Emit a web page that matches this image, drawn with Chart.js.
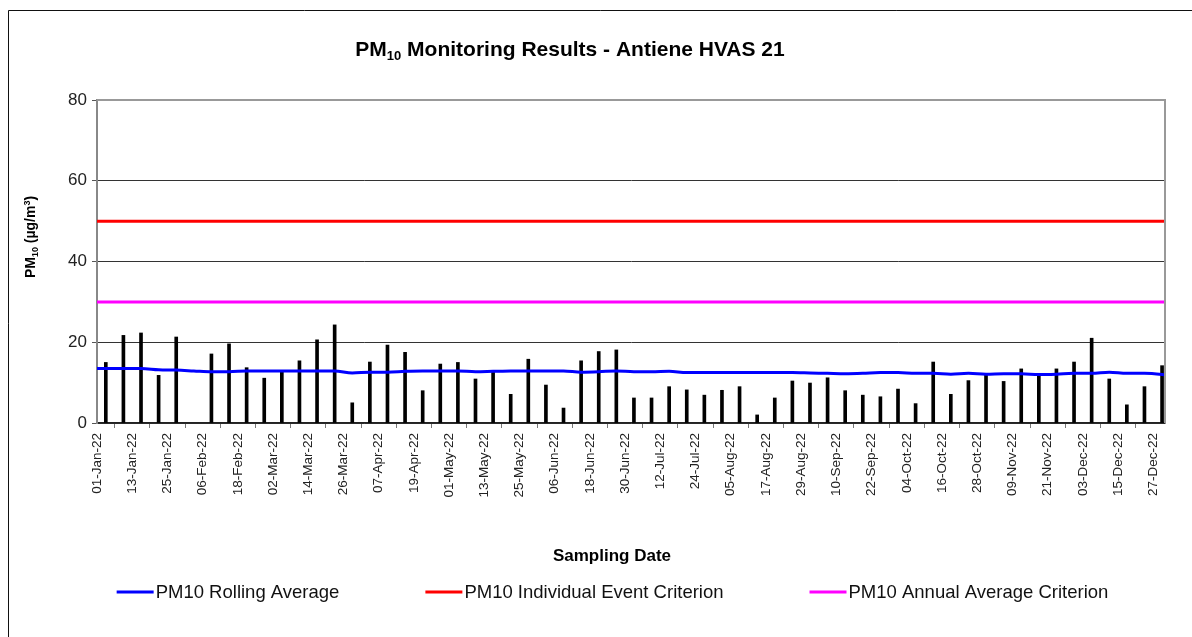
<!DOCTYPE html>
<html>
<head>
<meta charset="utf-8">
<script src="https://cdn.jsdelivr.net/npm/chart.js@4.4.1/dist/chart.umd.min.js"></script>
<style>
  html, body { margin: 0; padding: 0; background: #fff; }
  canvas { display: block; }
</style>
</head>
<body>
<canvas id="chart" width="1192" height="637"></canvas>
<script>
// sampling every 6 days, 03-Feb had no result
const sampleDates = [
    "04-Jan-22", "10-Jan-22", "16-Jan-22", "22-Jan-22", "28-Jan-22",
    "03-Feb-22", "09-Feb-22", "15-Feb-22", "21-Feb-22", "27-Feb-22",
    "05-Mar-22", "11-Mar-22", "17-Mar-22", "23-Mar-22", "29-Mar-22",
    "04-Apr-22", "10-Apr-22", "16-Apr-22", "22-Apr-22", "28-Apr-22",
    "04-May-22", "10-May-22", "16-May-22", "22-May-22", "28-May-22",
    "03-Jun-22", "09-Jun-22", "15-Jun-22", "21-Jun-22", "27-Jun-22",
    "03-Jul-22", "09-Jul-22", "15-Jul-22", "21-Jul-22", "27-Jul-22",
    "02-Aug-22", "08-Aug-22", "14-Aug-22", "20-Aug-22", "26-Aug-22",
    "01-Sep-22", "07-Sep-22", "13-Sep-22", "19-Sep-22", "25-Sep-22",
    "01-Oct-22", "07-Oct-22", "13-Oct-22", "19-Oct-22", "25-Oct-22", "31-Oct-22",
    "06-Nov-22", "12-Nov-22", "18-Nov-22", "24-Nov-22", "30-Nov-22",
    "06-Dec-22", "12-Dec-22", "18-Dec-22", "24-Dec-22", "30-Dec-22"
];

const pm10 = [
    15.0, 21.7, 22.3, 11.8, 21.3,
    null, 17.1, 19.6, 13.7, 11.1,
    12.8, 15.4, 20.6, 24.3, 5.0,
    15.1, 19.3, 17.5, 8.0, 14.6,
    15.0, 10.9, 12.7, 7.1, 15.8,
    9.4, 3.7, 15.4, 17.7, 18.1,
    6.2, 6.2, 9.0, 8.2, 6.9,
    8.1, 9.0, 2.0, 6.2, 10.4,
    9.9, 11.2, 8.0, 6.9, 6.5,
    8.4, 4.8, 15.1, 7.1, 10.5, 11.9,
    10.3, 13.4, 11.8, 13.4, 15.1,
    21.0, 10.9, 4.5, 9.0, 14.2
];

// rolling average, read at 01-Jan, each sampling date, then 31-Dec
const rollingDates = ["01-Jan-22"].concat(sampleDates, ["31-Dec-22"]);
const rollingAvg = [
    13.5,
    13.5, 13.5, 13.5, 13.2, 13.1,
    12.9, 12.7, 12.7, 12.9, 12.9,
    12.9, 12.9, 12.9, 12.9, 12.4,
    12.6, 12.6, 12.8, 12.9, 12.9,
    12.9, 12.7, 12.8, 12.9, 12.9,
    12.9, 12.9, 12.6, 12.7, 12.9,
    12.7, 12.7, 12.8, 12.5, 12.5,
    12.5, 12.5, 12.5, 12.5, 12.5,
    12.4, 12.3, 12.2, 12.3, 12.5,
    12.5, 12.3, 12.3, 12.1, 12.3, 12.1,
    12.2, 12.2, 12.0, 12.1, 12.3,
    12.3, 12.6, 12.3, 12.3, 12.0,
    11.9
];

const eventCriterion = 50;
const annualCriterion = 30;
const yTicks = [0, 20, 40, 60, 80];

const FONT = '"Liberation Sans", Arial, sans-serif';
const MONTHS = ["Jan", "Feb", "Mar", "Apr", "May", "Jun", "Jul", "Aug", "Sep", "Oct", "Nov", "Dec"];

// daily category axis for 2022
const dayLabels = [];
for (let d = new Date(Date.UTC(2022, 0, 1)); d.getUTCFullYear() === 2022; d.setUTCDate(d.getUTCDate() + 1)) {
    const dd = String(d.getUTCDate()).padStart(2, "0");
    dayLabels.push(dd + "-" + MONTHS[d.getUTCMonth()] + "-22");
}
const firstDay = dayLabels[0];
const lastDay = dayLabels[dayLabels.length - 1];

function drawRich(ctx, parts, x, y) {
    let w = 0;
    parts.forEach(p => {
        ctx.font = p.font;
        p.w = ctx.measureText(p.text).width;
        w += p.w;
    });
    let cx = x - w / 2;
    ctx.textAlign = "left";
    ctx.textBaseline = "alphabetic";
    parts.forEach(p => {
        ctx.font = p.font;
        ctx.fillText(p.text, cx, y + (p.dy || 0));
        cx += p.w;
    });
}

const decor = {
    id: "decor",
    beforeDraw(chart) {
        const ctx = chart.ctx;
        ctx.save();
        ctx.fillStyle = "#fff";
        ctx.fillRect(0, 0, chart.width, chart.height);
        ctx.restore();
    },
    afterDraw(chart) {
        const ctx = chart.ctx;
        const area = chart.chartArea;
        ctx.save();

        // outer frame (only top and left are in view)
        ctx.strokeStyle = "#111";
        ctx.lineWidth = 1;
        ctx.beginPath();
        ctx.moveTo(8.5, chart.height);
        ctx.lineTo(8.5, 10.5);
        ctx.lineTo(chart.width, 10.5);
        ctx.stroke();

        // plot frame top / right
        ctx.strokeStyle = "#999";
        ctx.lineWidth = 2;
        ctx.beginPath();
        ctx.moveTo(area.left, area.top);
        ctx.lineTo(area.right, area.top);
        ctx.lineTo(area.right, area.bottom);
        ctx.stroke();

        ctx.fillStyle = "#000";
        drawRich(ctx, [
            { text: "PM", font: "bold 21px " + FONT },
            { text: "10", font: "bold 13px " + FONT, dy: 4 },
            { text: " Monitoring Results - Antiene HVAS 21", font: "bold 21px " + FONT }
        ], 570, 56);

        drawRich(ctx, [
            { text: "Sampling Date", font: "bold 17px " + FONT }
        ], 612, 561);

        ctx.save();
        ctx.translate(30, 237);
        ctx.rotate(-Math.PI / 2);
        drawRich(ctx, [
            { text: "PM", font: "bold 14px " + FONT },
            { text: "10", font: "bold 9px " + FONT, dy: 3 },
            { text: " (\u00b5g/m", font: "bold 14px " + FONT },
            { text: "3", font: "bold 9px " + FONT, dy: -5 },
            { text: ")", font: "bold 14px " + FONT }
        ], 0, 5);
        ctx.restore();

        // legend: line datasets only
        const items = chart.data.datasets.filter(ds => ds.type === "line");
        const iconW = 37, iconGap = 2, itemGap = 86, legendY = 592;
        ctx.font = "18.5px " + FONT;
        const widths = items.map(ds => iconW + iconGap + ctx.measureText(ds.label).width);
        const total = widths.reduce((a, b) => a + b, 0) + itemGap * (items.length - 1);
        let x = 612.5 - total / 2;
        items.forEach((ds, i) => {
            ctx.strokeStyle = ds.borderColor;
            ctx.lineWidth = 3;
            ctx.beginPath();
            ctx.moveTo(x, legendY);
            ctx.lineTo(x + iconW, legendY);
            ctx.stroke();
            ctx.fillStyle = "#111";
            ctx.textAlign = "left";
            ctx.textBaseline = "middle";
            ctx.fillText(ds.label, x + iconW + iconGap, legendY + 1);
            x += widths[i] + itemGap;
        });

        ctx.restore();
    }
};

new Chart(document.getElementById("chart").getContext("2d"), {
    type: "bar",
    data: {
        labels: dayLabels,
        datasets: [
            {
                type: "line",
                label: "PM10 Rolling Average",
                data: rollingDates.map((d, i) => ({ x: d, y: rollingAvg[i] })),
                borderColor: "#0000ff",
                borderWidth: 3,
                pointRadius: 0,
                cubicInterpolationMode: "monotone",
                order: 1
            },
            {
                type: "line",
                label: "PM10 Individual Event Criterion",
                data: [{ x: firstDay, y: eventCriterion }, { x: lastDay, y: eventCriterion }],
                borderColor: "#ff0000",
                borderWidth: 3,
                pointRadius: 0,
                order: 1
            },
            {
                type: "line",
                label: "PM10 Annual Average Criterion",
                data: [{ x: firstDay, y: annualCriterion }, { x: lastDay, y: annualCriterion }],
                borderColor: "#ff00ff",
                borderWidth: 3,
                pointRadius: 0,
                order: 1
            },
            {
                type: "bar",
                label: "PM10",
                data: sampleDates.map((d, i) => ({ x: d, y: pm10[i] })),
                backgroundColor: "#000",
                barThickness: 3,
                order: 2
            }
        ]
    },
    options: {
        responsive: false,
        animation: false,
        layout: {
            padding: { top: 100, right: 27, bottom: 114, left: 0 }
        },
        plugins: {
            legend: { display: false },
            title: { display: false },
            tooltip: { enabled: false }
        },
        scales: {
            x: {
                type: "category",
                offset: false,
                grid: {
                    display: true,
                    drawOnChartArea: false,
                    tickLength: 5,
                    tickColor: "#777"
                },
                border: { color: "#222", width: 1.5 },
                ticks: {
                    autoSkip: false,
                    minRotation: 90,
                    maxRotation: 90,
                    padding: 5,
                    color: "#222",
                    font: { family: FONT, size: 13.5 }
                },
                afterBuildTicks: axis => {
                    axis.ticks = axis.ticks.filter(t => t.value % 12 === 0);
                },
                afterFit: axis => { axis.height = 100; }
            },
            y: {
                min: yTicks[0],
                max: yTicks[yTicks.length - 1],
                grid: {
                    color: "#333",
                    lineWidth: 1,
                    tickLength: 5,
                    tickColor: "#555"
                },
                border: { color: "#888", width: 2 },
                ticks: {
                    padding: 5,
                    color: "#222",
                    font: { family: FONT, size: 17 }
                },
                afterBuildTicks: axis => {
                    axis.ticks = yTicks.map(v => ({ value: v }));
                },
                afterFit: axis => { axis.width = 97; }
            }
        }
    },
    plugins: [decor]
});
</script>
</body>
</html>
